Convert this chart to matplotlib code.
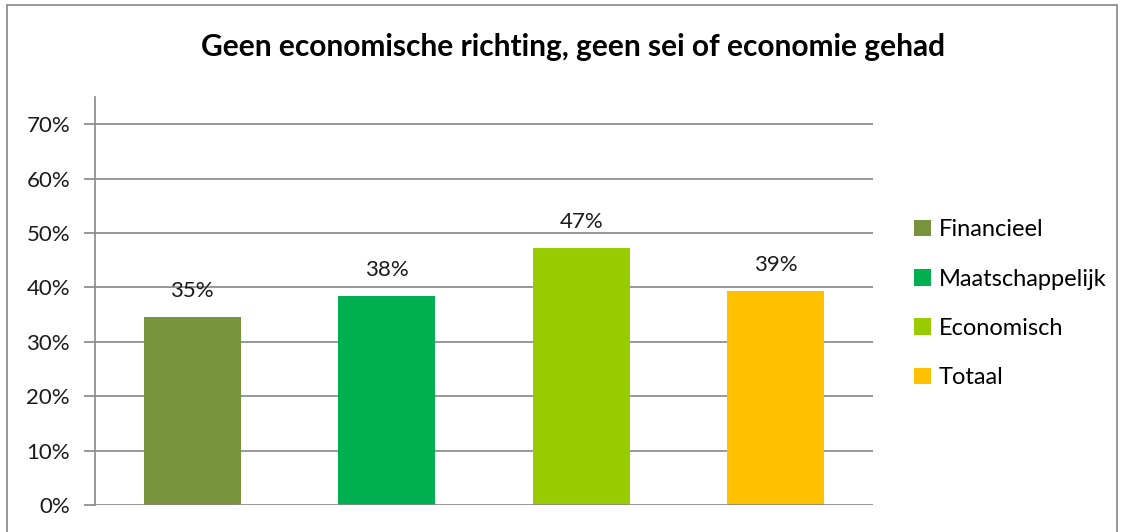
import matplotlib.pyplot as plt
from matplotlib.patches import Rectangle, Patch
from matplotlib.ticker import PercentFormatter

categories = ["Financieel", "Maatschappelijk", "Economisch", "Totaal"]
values = [0.346, 0.385, 0.473, 0.394]
labels = ["35%", "38%", "47%", "39%"]
colors = ["#77933C", "#00B050", "#99CC00", "#FFC000"]
yticks = [0, 0.1, 0.2, 0.3, 0.4, 0.5, 0.6, 0.7]

plt.rcParams["font.family"] = ["Lato", "DejaVu Sans"]

fig = plt.figure(figsize=(11.32, 5.32), dpi=100)
ax = fig.add_axes([95 / 1132, 27 / 532, 778 / 1132, 408 / 532])

# chart border
fig.patches.append(Rectangle((7 / 1132, -0.05), 1110 / 1132, 1.0 - 5 / 532 + 0.05,
                             transform=fig.transFigure, fill=False,
                             edgecolor="#868686", linewidth=1.2))

x = range(len(categories))
bars = ax.bar(x, values, width=0.5, color=colors, zorder=3)
for b, lab in zip(bars, labels):
    ax.text(b.get_x() + b.get_width() / 2, b.get_height() + 0.047, lab,
            ha="center", va="center", fontsize=16, color="#1a1a1a")

ax.set_xlim(-0.5, 3.5)
ax.set_ylim(0, 0.75)
ax.set_yticks(yticks)
ax.yaxis.set_major_formatter(PercentFormatter(1.0, decimals=0))
ax.set_xticks([])
for y in yticks[1:]:
    ax.axhline(y, color="#868686", linewidth=1.2, zorder=1)
ax.axhline(0, color="#868686", linewidth=1.2, zorder=4)

for s in ["top", "right", "bottom"]:
    ax.spines[s].set_visible(False)
ax.spines["left"].set_color("#868686")
ax.spines["left"].set_linewidth(1.2)
ax.tick_params(axis="y", length=8, color="#868686", width=1.2,
               labelsize=16, labelcolor="#1a1a1a", pad=10)

fig.text(573 / 1132, 1 - 47 / 532, "Geen economische richting, geen sei of economie gehad",
         ha="center", va="center", fontsize=21.5, fontweight="bold")

handles = [Patch(facecolor=c, edgecolor="none") for c in colors]
fig.legend(handles, categories, loc="upper left", bbox_to_anchor=(893 / 1132, 1 - 198 / 532),
           frameon=False, fontsize=17, handlelength=0.7, handleheight=0.7,
           handletextpad=0.35, labelspacing=1.2)

fig.savefig("out.png", dpi=100)
